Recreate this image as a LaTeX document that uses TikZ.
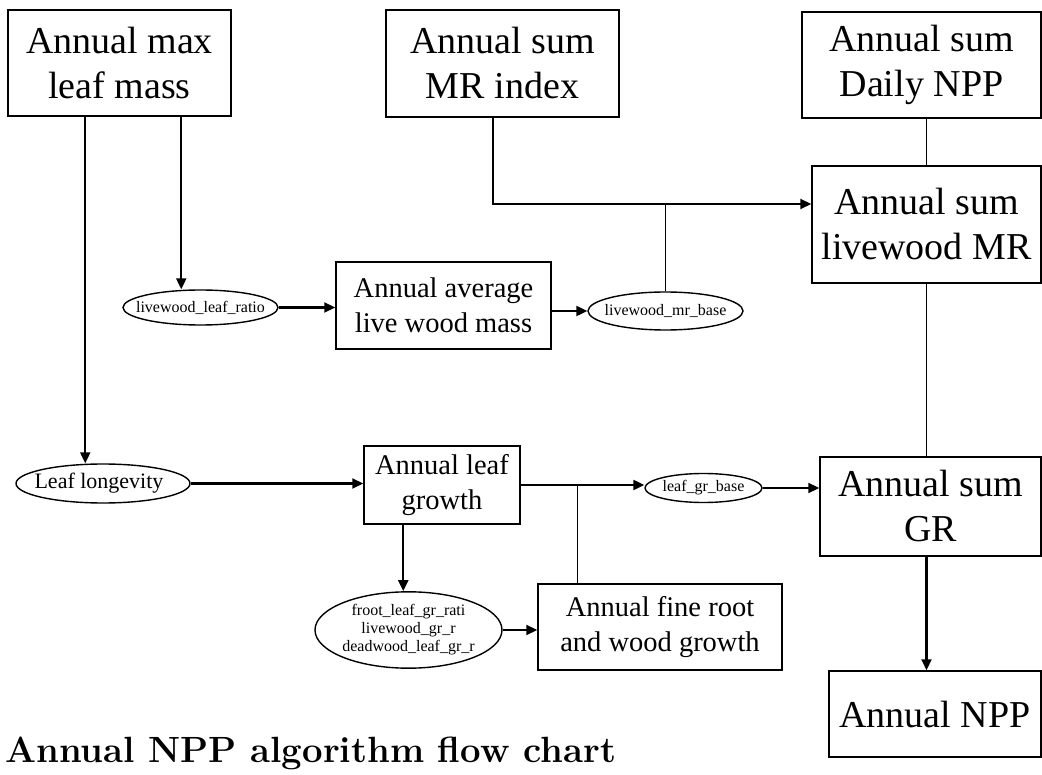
\documentclass[tikz,border=0pt]{standalone}
\usepackage{fontspec}
\newfontfamily\boxfont{Liberation Serif}
\usetikzlibrary{shapes.geometric,arrows.meta}
\newcommand\ovaltext[1]{\makebox[0pt]{#1}}
\tikzset{
  box/.style={draw, line width=1.5pt, inner sep=0pt, align=center},
  bigbox/.style={box, font=\boxfont\fontsize{38}{45}\selectfont},
  midbox/.style={box, font=\boxfont\fontsize{28.5}{35}\selectfont},
  oval/.style={ellipse, draw, line width=1.4pt, inner sep=0pt, font=\boxfont\fontsize{16}{18}\selectfont},
  arr/.style={line width=2.2pt, -{Triangle[length=11pt,width=10pt]}},
  link/.style={line width=1.3pt},
}
\begin{document}
\begin{tikzpicture}[x=1pt,y=-1pt]
\useasboundingbox (0,0) rectangle (1042,775);

% rectangular blocks
\node[bigbox, minimum width=223pt, minimum height=106pt] (maxleaf) at (119.5,63) {Annual max\\leaf mass};
\node[bigbox, minimum width=233pt, minimum height=107pt] (mrindex) at (502.5,63.5) {Annual sum\\MR index};
\node[bigbox, minimum width=239pt, minimum height=106pt] (dailynpp) at (921.5,65) {Annual sum\\Daily NPP};
\node[bigbox, minimum width=229pt, minimum height=117pt] (wmr) at (926.5,224.5) {Annual sum\\livewood MR};
\node[midbox, minimum width=215pt, minimum height=87pt] (avgwood) at (443.5,305.5) {Annual average\\live wood mass};
\node[midbox, minimum width=156pt, minimum height=78pt] (leafgr) at (442,485) {Annual leaf\\growth};
\node[midbox, minimum width=244pt, minimum height=86pt] (rootgr) at (660,627) {Annual fine root\\and wood growth};
\node[bigbox, minimum width=221pt, minimum height=99pt] (sumgr) at (930.5,506.5) {Annual sum\\GR};
\node[bigbox, minimum width=212pt, minimum height=86pt] (npp) at (935,714) {Annual NPP};

% parameter ellipses
\node[oval, minimum width=155pt, minimum height=35pt] (lwratio) at (200.5,307.5) {\ovaltext{livewood\_leaf\_ratio}};
\node[oval, minimum width=155pt, minimum height=38pt] (mrbase) at (665.5,311) {\ovaltext{livewood\_mr\_base}};
\node[oval, minimum width=174pt, minimum height=39pt, font=\boxfont\fontsize{22}{24}\selectfont] (longev) at (103,483.5) {\ovaltext{\hspace*{-8pt}Leaf longevity}};
\node[oval, minimum width=187pt, minimum height=76pt] (ratios) at (408.5,630) {\ovaltext{\begin{tabular}{@{}c@{}}froot\_leaf\_gr\_rati\\livewood\_gr\_r\\deadwood\_leaf\_gr\_r\end{tabular}}};
\node[oval, minimum width=117pt, minimum height=29pt] (grbase) at (703.5,488) {\ovaltext{leaf\_gr\_base}};

% helper points
\coordinate (p1) at ([xshift=78pt]maxleaf.south west);
\coordinate (p2) at ([xshift=174pt]maxleaf.south west);
\coordinate (p3) at ([xshift=-9.5pt]mrindex.south);
\coordinate (mrbus) at (493,204);
\coordinate (p4) at ([xshift=40pt]rootgr.north west);
\coordinate (p5) at ([xshift=40pt]leafgr.south west);

% connectors
\draw[arr] (p1) -- (p1 |- longev.north);
\draw[arr] (p2) -- (p2 |- lwratio.north);
\draw[arr] (lwratio.east) -- (lwratio.east -| avgwood.west);
\draw[arr] (mrbase.west -| avgwood.east) -- (mrbase.west);
\draw[arr] (p3) -- (mrbus) -- (mrbus -| wmr.west);
\draw[link] (mrbase.north) -- (mrbase.north |- mrbus);
\draw[link] (wmr.north |- dailynpp.south) -- (wmr.north);
\draw[link] (wmr.south) -- (wmr.south |- sumgr.north);
\draw[arr] (wmr.south |- sumgr.south) -- (wmr.south |- npp.north);
\draw[arr] (longev.east) -- (longev.east -| leafgr.west);
\draw[arr] (leafgr.east) -- (leafgr.east -| grbase.west);
\draw[link] (p4) -- (p4 |- leafgr.east);
\draw[arr] (grbase.east) -- (grbase.east -| sumgr.west);
\draw[arr] (p5) -- (p5 |- ratios.north);
\draw[arr] (ratios.east) -- (ratios.east -| rootgr.west);

% caption
\node[anchor=base west, inner sep=0pt, font=\fontsize{36.5}{40}\selectfont\bfseries] (title) at (5,762) {Annual NPP algorithm flow chart};
\end{tikzpicture}
\end{document}
